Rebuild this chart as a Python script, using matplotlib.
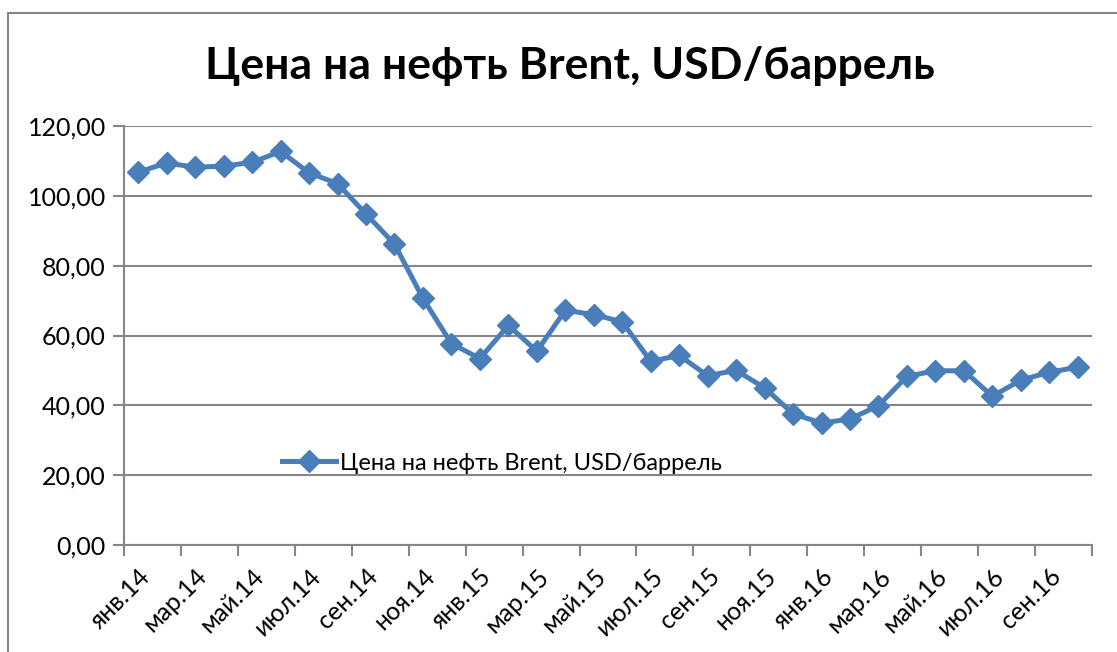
import matplotlib
matplotlib.use("Agg")
import matplotlib.pyplot as plt
import numpy as np
from matplotlib.lines import Line2D

plt.rcParams['font.family'] = ['Lato', 'DejaVu Sans']

months = ["янв", "фев", "мар", "апр", "май", "июн", "июл", "авг", "сен", "окт", "ноя", "дек"]
categories = [f"{m}.{y}" for y in ("14", "15", "16") for m in months][:34]
values = [106.8, 109.4, 108.2, 108.5, 109.6, 112.7, 106.6, 103.5, 94.8, 86.2, 70.6, 57.7,
          53.4, 62.9, 55.5, 67.2, 66.0, 63.9, 52.6, 54.3, 48.5, 50.0, 45.0, 37.6,
          34.9, 36.1, 39.9, 48.3, 49.9, 49.9, 42.6, 47.2, 49.5, 50.9]
series_name = "Цена на нефть Brent, USD/баррель"
title = "Цена на нефть Brent, USD/баррель"
yticks = [0, 20, 40, 60, 80, 100, 120]

W, H = 1117, 652
fig = plt.figure(figsize=(W / 100, H / 100), dpi=100)
ax = fig.add_axes([124 / W, 1 - 545 / H, (1092 - 124) / W, (545 - 126) / H])

blue = "#4A7EBB"
gray = "#868686"
x = np.arange(len(values))
line, = ax.plot(x, values, color=blue, lw=3.6, marker="D", markersize=11.5,
                markeredgecolor=blue, markerfacecolor=blue, label=series_name, zorder=3)

ax.set_xlim(-0.5, len(values) - 0.5)
ax.set_ylim(0, 120)
ax.set_yticks(yticks)
ax.set_yticklabels([f"{v:.2f}".replace(".", ",") for v in yticks], fontsize=18)
ax.yaxis.grid(True, color=gray, lw=1.5)
ax.set_axisbelow(True)

# major ticks at category boundaries (every 2), minor for labels
ax.set_xticks(np.arange(-0.5, len(values), 2))
ax.set_xticklabels([])
ax.set_xticks(np.arange(0, len(values), 2), minor=True)
ax.set_xticklabels(categories[::2], minor=True, rotation=45, ha="right", va="top",
                   rotation_mode="anchor", fontsize=18)
ax.tick_params(axis="x", which="major", length=8, width=1.5, color=gray, direction="out")
ax.tick_params(axis="x", which="minor", length=0, pad=14)
ax.tick_params(axis="y", length=8, width=1.5, color=gray, pad=5)

for s in ["top", "right"]:
    ax.spines[s].set_visible(False)
for s in ["left", "bottom"]:
    ax.spines[s].set_color(gray)
    ax.spines[s].set_linewidth(1.5)

leg = ax.legend(handles=[line], loc="center", bbox_to_anchor=(502 / W, 1 - 463 / H),
                bbox_transform=fig.transFigure, frameon=False, fontsize=17,
                handlelength=2.3, handletextpad=0.15)

fig.text(570 / W, 1 - 66 / H, title, ha="center", va="center", fontsize=32, fontweight="bold")

# outer chart border (partially cropped)
fig.add_artist(Line2D([8 / W, 8 / W], [0, 1 - 13 / H], transform=fig.transFigure, color=gray, lw=1.5))
fig.add_artist(Line2D([8 / W, 1], [1 - 13 / H, 1 - 13 / H], transform=fig.transFigure, color=gray, lw=1.5))

fig.savefig("out.png", dpi=100)
